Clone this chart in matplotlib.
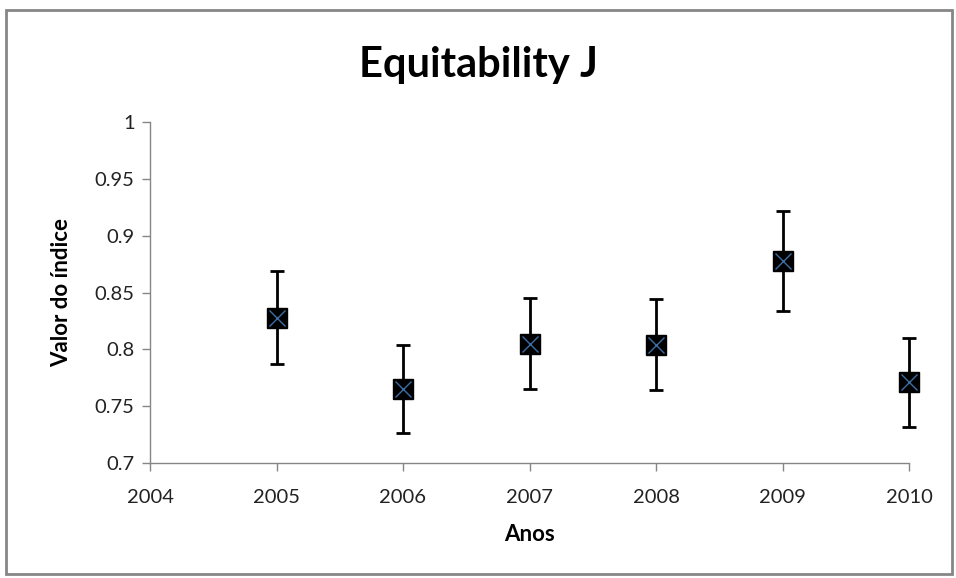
import matplotlib.pyplot as plt
from matplotlib.patches import Rectangle

plt.rcParams['font.family'] = ['Lato', 'DejaVu Sans']

anos = [2005, 2006, 2007, 2008, 2009, 2010]
valores = [0.828, 0.765, 0.805, 0.804, 0.878, 0.771]
erros = [0.041, 0.039, 0.040, 0.040, 0.044, 0.039]

fig = plt.figure(figsize=(9.56, 5.78), dpi=100)
ax = fig.add_axes([150 / 956, 1 - 463 / 578, (909 - 150) / 956, (463 - 122) / 578])

eb = ax.errorbar(anos, valores, yerr=erros, fmt='none', ecolor='black',
                 elinewidth=2, capsize=5, capthick=2, zorder=2)
for art in eb.lines[1] + eb.lines[2]:
    art.set_clip_on(False)
ax.plot(anos, valores, linestyle='none', marker='s', markersize=14,
        markerfacecolor='black', markeredgecolor='black', zorder=3, clip_on=False)
ax.plot(anos, valores, linestyle='none', marker='x', markersize=12,
        markeredgecolor='#3a6ea5', markeredgewidth=1, zorder=4, clip_on=False)

ax.set_xlim(2004, 2010)
ax.set_ylim(0.7, 1.0)
ax.set_xticks([2004, 2005, 2006, 2007, 2008, 2009, 2010])
ax.set_yticks([0.7, 0.75, 0.8, 0.85, 0.9, 0.95, 1.0])
ax.set_yticklabels(['0.7', '0.75', '0.8', '0.85', '0.9', '0.95', '1'])

for s in ['top', 'right']:
    ax.spines[s].set_visible(False)
for s in ['left', 'bottom']:
    ax.spines[s].set_color('#868686')
    ax.spines[s].set_linewidth(1)
ax.tick_params(axis='both', colors='#868686', labelcolor='#222222',
               labelsize=14.5, length=6, width=1)
ax.tick_params(axis='y', pad=5)
ax.tick_params(axis='x', pad=13)

ax.set_xlabel('Anos', fontsize=16, fontweight='bold', labelpad=13)
ax.set_ylabel('Valor do índice', fontsize=16, fontweight='bold', labelpad=16)
fig.text(0.5, 1 - 65 / 578, 'Equitability J', fontsize=30, fontweight='bold',
         ha='center', va='center')

fig.patches.append(Rectangle((6 / 956, 4 / 578), 946 / 956, 564 / 578,
                             transform=fig.transFigure, fill=False,
                             edgecolor='#868686', linewidth=2))

fig.savefig('out.png', dpi=100)
